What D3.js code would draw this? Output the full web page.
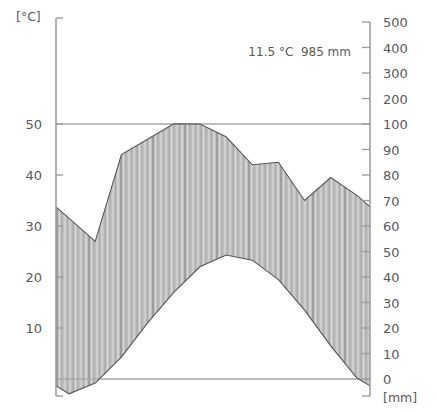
<!DOCTYPE html>
<html>
<head>
<meta charset="utf-8">
<script src="https://cdn.jsdelivr.net/npm/d3@7"></script>
<style>
  body { margin: 0; background: #fff; }
  text { font-family: "DejaVu Sans", Arial, sans-serif; fill: #5a5a5a; }
</style>
</head>
<body>
<div id="chart"></div>
<script>
// monthly climate values
const months = ["Jan", "Feb", "Mar", "Apr", "May", "Jun", "Jul", "Aug", "Sep", "Oct", "Nov", "Dec"];
const temperature = [-2.9, -0.8, 4.3, 11.0, 17.0, 22.0, 24.3, 23.3, 19.5, 13.5, 6.5, 0.2];
const precipitation = [63, 54, 88, 94, 101, 100, 95, 84, 85, 70, 79, 72];
const tempTicks = [10, 20, 30, 40, 50];
const precTicks = [0, 10, 20, 30, 40, 50, 60, 70, 80, 90, 100, 200, 300, 400, 500];
const summary = "11.5 °C  985 mm";

const width = 437, height = 412;
const left = 56, right = 370;

const svg = d3.select("#chart").append("svg")
    .attr("width", width)
    .attr("height", height);

// scales: 10 °C = 20 mm below 100 mm, compressed above
const x = d3.scalePoint().domain(months).range([left, right]).padding(0.5);
const yT = d3.scaleLinear().domain([0, 50]).range([379, 124]);
const yP = d3.scaleLinear().domain([0, 100, 500]).range([379, 124, 22]);

// close the curves at both edges with the Dec/Jan mean
const edge = arr => (arr[0] + arr[arr.length - 1]) / 2;
const tempPts = [[left, yT(edge(temperature))]]
    .concat(months.map((m, i) => [x(m), yT(temperature[i])]))
    .concat([[right, yT(edge(temperature))]]);
const precPts = [[left, yP(edge(precipitation))]]
    .concat(months.map((m, i) => [x(m), yP(precipitation[i])]))
    .concat([[right, yP(edge(precipitation))]]);

// hatch pattern
const defs = svg.append("defs");
const pat = defs.append("pattern")
    .attr("id", "hatch")
    .attr("patternUnits", "userSpaceOnUse")
    .attr("width", 32).attr("height", 10);
pat.append("rect").attr("width", 32).attr("height", 10).attr("fill", "#c0c0c0");
const stripes = [[1, "#dcdcdc"], [3.5, "#a8a8a8"], [6, "#d6d6d6"], [9, "#a0a0a0"], [11.5, "#dedede"],
    [14, "#acacac"], [17, "#d8d8d8"], [19.5, "#a6a6a6"], [22, "#e0e0e0"], [25, "#7a7a7a"],
    [27.5, "#dadada"], [30, "#a8a8a8"]];
pat.selectAll("line").data(stripes).join("line")
    .attr("x1", d => d[0]).attr("x2", d => d[0])
    .attr("y1", 0).attr("y2", 10)
    .attr("stroke", d => d[1])
    .attr("stroke-width", 1);

// area between precipitation (top) and temperature (bottom)
const area = d3.area()
    .x((d, i) => tempPts[i][0])
    .y0((d, i) => tempPts[i][1])
    .y1((d, i) => precPts[i][1]);
svg.append("path")
    .datum(tempPts)
    .attr("d", area)
    .attr("fill", "url(#hatch)");

// reference lines at 0 and 50 °C
svg.selectAll(".ref").data([0, 50]).join("line")
    .attr("x1", left).attr("x2", right)
    .attr("y1", d => yT(d)).attr("y2", d => yT(d))
    .attr("stroke", "#a8a8a8")
    .attr("stroke-width", 1.5);

const line = d3.line();
svg.append("path").attr("d", line(precPts))
    .attr("fill", "none").attr("stroke", "#555").attr("stroke-width", 1.1);
svg.append("path").attr("d", line(tempPts))
    .attr("fill", "none").attr("stroke", "#555").attr("stroke-width", 1.1);

// left axis (temperature)
const axisColor = "#9a9a9a";
svg.append("line")
    .attr("x1", left).attr("x2", left).attr("y1", 18).attr("y2", 396)
    .attr("stroke", axisColor).attr("stroke-width", 1.5);
svg.selectAll(".tl").data(tempTicks.concat([yT.invert(18), yT.invert(396)])).join("line")
    .attr("x1", left).attr("x2", left + 7)
    .attr("y1", d => yT(d)).attr("y2", d => yT(d))
    .attr("stroke", axisColor).attr("stroke-width", 1.3);
svg.selectAll(".tlab").data(tempTicks).join("text")
    .attr("x", 42).attr("y", d => yT(d) + 5)
    .attr("text-anchor", "end")
    .attr("font-size", 13)
    .text(d => d);

// right axis (precipitation)
svg.append("line")
    .attr("x1", right).attr("x2", right).attr("y1", yP(500)).attr("y2", 396)
    .attr("stroke", axisColor).attr("stroke-width", 1.5);
svg.selectAll(".tr").data(precTicks.concat([yP.invert(396)])).join("line")
    .attr("x1", right - 8).attr("x2", right)
    .attr("y1", d => yP(d)).attr("y2", d => yP(d))
    .attr("stroke", axisColor).attr("stroke-width", 1.3);
svg.selectAll(".tplab").data(precTicks).join("text")
    .attr("x", 383).attr("y", d => yP(d) + 5)
    .attr("font-size", 13)
    .text(d => d);

// unit labels and summary
svg.append("text").attr("x", 16).attr("y", 21).attr("font-size", 12.5).text("[°C]");
svg.append("text").attr("x", 383).attr("y", 402).attr("font-size", 12.5).text("[mm]");
svg.append("text").attr("x", 351).attr("y", 56).attr("text-anchor", "end")
    .attr("font-size", 12).style("white-space", "pre").text(summary);
</script>
</body>
</html>
